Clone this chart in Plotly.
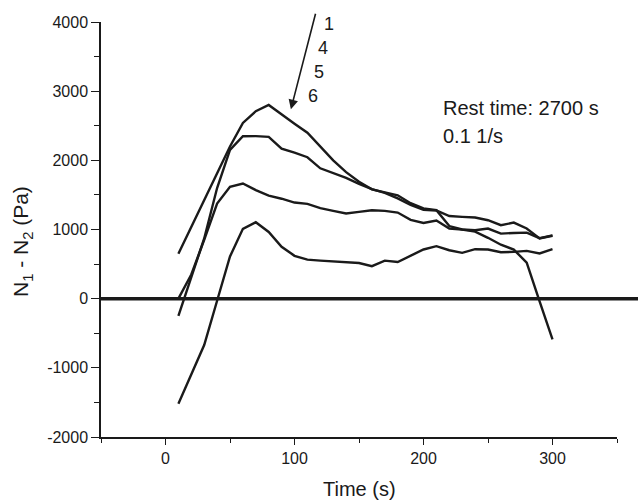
import plotly.graph_objects as go

time_s = [10, 20, 30, 40, 50, 60, 70, 80, 90, 100, 110, 120, 130, 140, 150,
          160, 170, 180, 190, 200, 210, 220, 230, 240, 250, 260, 270, 280, 290, 300]

curve_1 = [650, 1040, 1420, 1810, 2200, 2540, 2710, 2800, 2660, 2530, 2400, 2200, 2000, 1830, 1690,
           1580, 1540, 1495, 1380, 1305, 1280, 1050, 1000, 970, 880, 780, 710, 520, -40, -590]
curve_4 = [-250, 300, 870, 1600, 2150, 2348, 2350, 2340, 2170, 2110, 2045, 1885, 1812, 1745, 1660,
           1585, 1530, 1450, 1355, 1285, 1275, 1195, 1182, 1173, 1134, 1062, 1100, 1014, 870, 910]
curve_5 = [0, 350, 850, 1375, 1616, 1665, 1570, 1490, 1445, 1390, 1370, 1310, 1270, 1232, 1255,
           1279, 1270, 1245, 1140, 1095, 1130, 1015, 1000, 990, 1014, 940, 950, 955, 875, 915]
curve_6 = [-1520, -1100, -670, -30, 610, 1010, 1105, 965, 750, 620, 565, 550, 540, 530, 515,
           470, 550, 530, 620, 711, 759, 700, 662, 715, 711, 672, 676, 691, 653, 715]

series = [("1", curve_1), ("4", curve_4), ("5", curve_5), ("6", curve_6)]
label_names = ["1", "4", "5", "6"]
label_x = [126.8, 122.0, 119.0, 114.3]
label_y = [3965, 3620, 3273, 2926]

x_ticks = [0, 100, 200, 300]
x_tick_text = ["0", "100", "200", "300"]
y_ticks = [-2000, -1000, 0, 1000, 2000, 3000, 4000]
y_tick_text = ["-2000", "-1000", "0", "1000", "2000", "3000", "4000"]

FONT = "Liberation Sans, Arial, sans-serif"
INK = "#1a1a1a"

fig = go.Figure()
for name, vals in series:
    fig.add_trace(go.Scatter(x=time_s, y=vals, mode="lines", name=name,
                             line=dict(color=INK, width=2.4), showlegend=False))

# thick zero line extending past the axis end
fig.add_shape(type="line", xref="paper", x0=0, x1=1.05, yref="y", y0=0, y1=0,
              line=dict(color=INK, width=3.5), layer="above")

# arrow
fig.add_annotation(x=97.2, y=2738, ax=116.6, ay=4140, xref="x", yref="y",
                   axref="x", ayref="y", showarrow=True, arrowhead=2,
                   arrowsize=1.2, arrowwidth=1.6, arrowcolor=INK, text="")

for n, lx, ly in zip(label_names, label_x, label_y):
    fig.add_annotation(x=lx, y=ly, text=n, showarrow=False,
                       font=dict(family=FONT, size=18, color=INK))

fig.add_annotation(x=213.6, y=2753, text="Rest time: 2700 s", showarrow=False,
                   xanchor="left", font=dict(family=FONT, size=20, color=INK))
fig.add_annotation(x=213.6, y=2348, text="0.1 1/s", showarrow=False,
                   xanchor="left", font=dict(family=FONT, size=20, color=INK))

# axis titles
fig.add_annotation(x=0.5, y=-0.125, xref="paper", yref="paper", text="Time (s)",
                   showarrow=False, xanchor="center", yanchor="middle",
                   font=dict(family=FONT, size=20, color=INK))
fig.add_annotation(x=-0.153, y=0.47, xref="paper", yref="paper",
                   text="N<sub>1</sub> - N<sub>2</sub> (Pa)", textangle=-90,
                   showarrow=False, xanchor="center", yanchor="middle",
                   font=dict(family=FONT, size=21, color=INK))

fig.update_layout(
    width=638, height=501,
    margin=dict(l=101, r=21, t=22, b=64),
    plot_bgcolor="white", paper_bgcolor="white",
    font=dict(family=FONT, color=INK),
    xaxis=dict(range=[-50, 350], tickvals=x_ticks, ticktext=x_tick_text,
               ticks="outside", ticklen=6, automargin=False,
               tickwidth=1.3, tickcolor=INK, showline=True, linecolor=INK,
               linewidth=1.5, showgrid=False, zeroline=False,
               tickfont=dict(size=16, family=FONT, color=INK),
               minor=dict(dtick=50, tick0=0, ticks="outside", ticklen=4,
                          tickcolor=INK, tickwidth=1.3, showgrid=False)),
    yaxis=dict(range=[-2000, 4000], tickvals=y_ticks, ticktext=y_tick_text,
               ticks="outside", ticklen=8, automargin=False,
               tickwidth=1.3, tickcolor=INK, showline=True, linecolor=INK,
               linewidth=1.5, showgrid=False, zeroline=False,
               tickfont=dict(size=16, family=FONT, color=INK),
               minor=dict(dtick=500, tick0=0, ticks="outside", ticklen=5,
                          tickcolor=INK, tickwidth=1.3, showgrid=False)),
)

fig.write_html("out.html")
